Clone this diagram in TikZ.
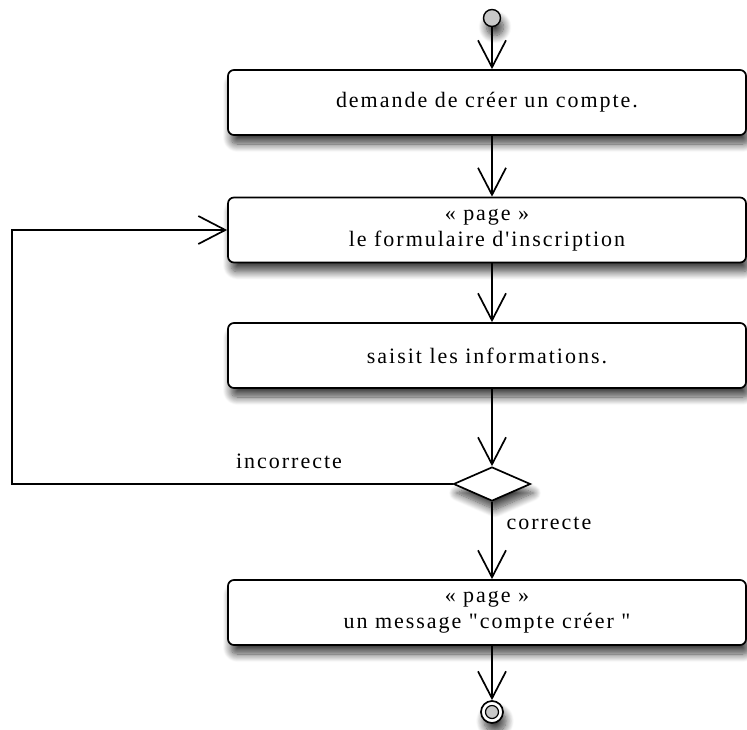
\documentclass[tikz,border=0pt]{standalone}
\usepackage{fontspec}
\newfontfamily\diafont{Liberation Serif}[LetterSpace=9]
\usetikzlibrary{arrows.meta,shapes.geometric,shadows.blur}
\definecolor{nodegray}{RGB}{200,200,200}
\begin{document}
\begin{tikzpicture}[x=1pt,y=-1pt,
  every node/.style={font=\diafont\fontsize{22}{26}\selectfont},
  softshadow/.style={blur shadow={shadow xshift=3pt, shadow yshift=-9pt,
      shadow blur radius=8pt, shadow blur steps=12, shadow opacity=75}},
  action/.style={draw, line width=1.7pt, rounded corners=6pt, fill=white,
      minimum width=518pt, minimum height=65pt, align=center, inner sep=0pt,
      softshadow},
  decision/.style={diamond, draw, line width=1.7pt, fill=white, inner sep=0pt,
      minimum width=77pt, minimum height=34pt, softshadow},
  initnode/.style={circle, draw, line width=1.4pt, fill=nodegray,
      minimum size=17pt, inner sep=0pt, softshadow},
  finalring/.style={circle, draw, line width=1.7pt, fill=white,
      minimum size=22pt, inner sep=0pt, softshadow},
  finalcore/.style={circle, draw, line width=1.2pt, fill=nodegray,
      minimum size=13pt, inner sep=0pt},
  flow/.style={line width=1.7pt,
      -{Straight Barb[length=27pt,width=28pt,line width=1.7pt]}},
  guard/.style={inner sep=0pt}
]
\useasboundingbox (0,0) rectangle (747,729);

% nodes
\node[initnode] (start) at (492,18) {};
\node[action] (b1) at (487,102.5) {demande de créer un compte.};
\node[action] (b2) at (487,230) {« page »\\le formulaire d'inscription};
\node[action] (b3) at (487,355.5) {saisit les informations.};
\node[decision] (dec) at (492,484) {};
\node[action] (b4) at (487,612.5) {« page »\\un message "compte créer "};
\node[finalring] (end) at (492,712) {};
\node[finalcore] (endcore) at (end) {};

% flows
\draw[flow] (start) -- (start |- b1.north);
\draw[flow] (start |- b1.south) -- (start |- b2.north);
\draw[flow] (start |- b2.south) -- (start |- b3.north);
\draw[flow] (start |- b3.south) -- (dec.north);
\draw[flow] (dec.south) -- (dec.south |- b4.north);
\draw[flow] (start |- b4.south) -- (end.north);

% loop back on incorrect input
\coordinate (loop) at (12,484);
\draw[flow] (dec.west) -- (loop) |- (b2.west);

% guards
\node[guard] (lblbad) at (289,461) {incorrecte};
\node[guard] (lblok) at (549,523) {correcte};
\end{tikzpicture}
\end{document}
